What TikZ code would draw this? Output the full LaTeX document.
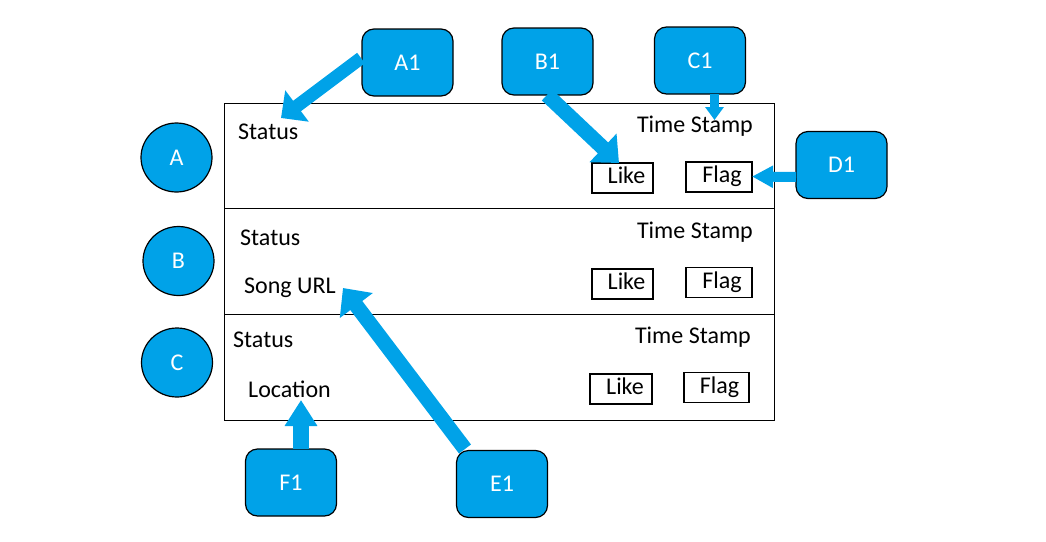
\documentclass[tikz,border=0pt]{standalone}
\usepackage{fontspec}
\setmainfont{Carlito}
\usetikzlibrary{arrows.meta,shapes.geometric}
\definecolor{pblue}{RGB}{0,162,232}
\tikzset{
  every node/.style={font=\fontsize{24}{28}\selectfont},
  rowbox/.style={draw=black, line width=1.3pt, anchor=north west, inner sep=0pt, minimum width=550pt},
  txt/.style={anchor=base west, inner sep=0pt},
  txtr/.style={anchor=base east, inner sep=0pt},
  btn/.style={draw=black, line width=1.2pt, inner sep=0pt, minimum height=30pt, text height=16pt, text depth=5pt},
  callout/.style={draw=black, line width=1.2pt, fill=pblue, text=white, rounded corners=12pt, minimum width=91pt, minimum height=67pt, inner sep=0pt},
  dot/.style={ellipse, draw=black, line width=1.2pt, fill=pblue, text=white, minimum width=71pt, minimum height=69pt, inner sep=0pt},
  barrow/.style={draw=pblue, line cap=butt},
}
\begin{document}
\begin{tikzpicture}[x=1pt,y=-1pt]
\useasboundingbox (0,0) rectangle (1046,541);
% rows
\node[rowbox, minimum height=105pt] (r1) at (224,103) {};
\node[rowbox, minimum height=106pt] (r2) at (224,208) {};
\node[rowbox, minimum height=106pt] (r3) at (224,314) {};
% texts
\node[txt] (s1) at (238,139) {Status};
\node[txt] (s2) at (240,245) {Status};
\node[txt] (url) at (244,293) {Song URL};
\node[txt] (s3) at (233,347) {Status};
\node[txt] (loc) at (248,397) {Location};
\node[txtr] (t1) at (753,132) {Time Stamp};
\node[txtr] (t2) at (753,238) {Time Stamp};
\node[txtr] (t3) at (751,343) {Time Stamp};
% buttons
\node[btn, minimum width=61pt] (l1) at (622.5,178) {\hspace*{8pt}Like};
\node[btn, minimum width=66pt] (f1) at (719,177) {\hspace*{6pt}Flag};
\node[btn, minimum width=61pt] (l2) at (622.5,284) {\hspace*{8pt}Like};
\node[btn, minimum width=66pt] (f2) at (719,282.5) {\hspace*{6pt}Flag};
\node[btn, minimum width=62pt] (l3) at (621,389) {\hspace*{8pt}Like};
\node[btn, minimum width=65pt] (f3) at (716.5,387.5) {\hspace*{6pt}Flag};
% circles
\node[dot] (A) at (176.5,157.5) {A};
\node[dot] (B) at (178.5,261) {B};
\node[dot] (C) at (177,362.5) {C};
% callouts
\node[callout] (A1) at (407.5,62.5) {A1};
\node[callout] (B1) at (547.5,61.5) {B1};
\node[callout] (C1) at (700,60.5) {C1};
\node[callout] (D1) at (841.5,165) {D1};
\node[callout] (F1) at (291,482.5) {F1};
\node[callout] (E1) at (502,484) {E1};
% arrow ends
\coordinate (a1s) at (361,58);
\coordinate (a1t) at (281,118);
\coordinate (b1s) at (547,95);
\coordinate (b1t) at (619,163);
\coordinate (c1s) at (714.5,94);
\coordinate (c1t) at (714.5,120);
\coordinate (d1s) at (796,177);
\coordinate (d1t) at (752,176.5);
\coordinate (f1s) at (301,449);
\coordinate (f1t) at (301,400);
\coordinate (e1s) at (465,449);
\coordinate (e1t) at (343,288);
% arrows
\draw[barrow, line width=13pt, -{Triangle[length=20pt,width=38pt]}] (a1s) -- (a1t);
\draw[barrow, line width=15pt, -{Triangle[length=22pt,width=38pt]}] (b1s) -- (b1t);
\draw[barrow, line width=9pt, -{Triangle[length=13pt,width=18pt]}] (c1s) -- (c1t);
\draw[barrow, line width=10pt, -{Triangle[length=21pt,width=21pt]}] (d1s) -- (d1t);
\draw[barrow, line width=16pt, -{Triangle[length=26pt,width=31pt]}] (f1s) -- (f1t);
\draw[barrow, line width=15pt, -{Triangle[length=22pt,width=40pt]}] (e1s) -- (e1t);
\end{tikzpicture}
\end{document}
